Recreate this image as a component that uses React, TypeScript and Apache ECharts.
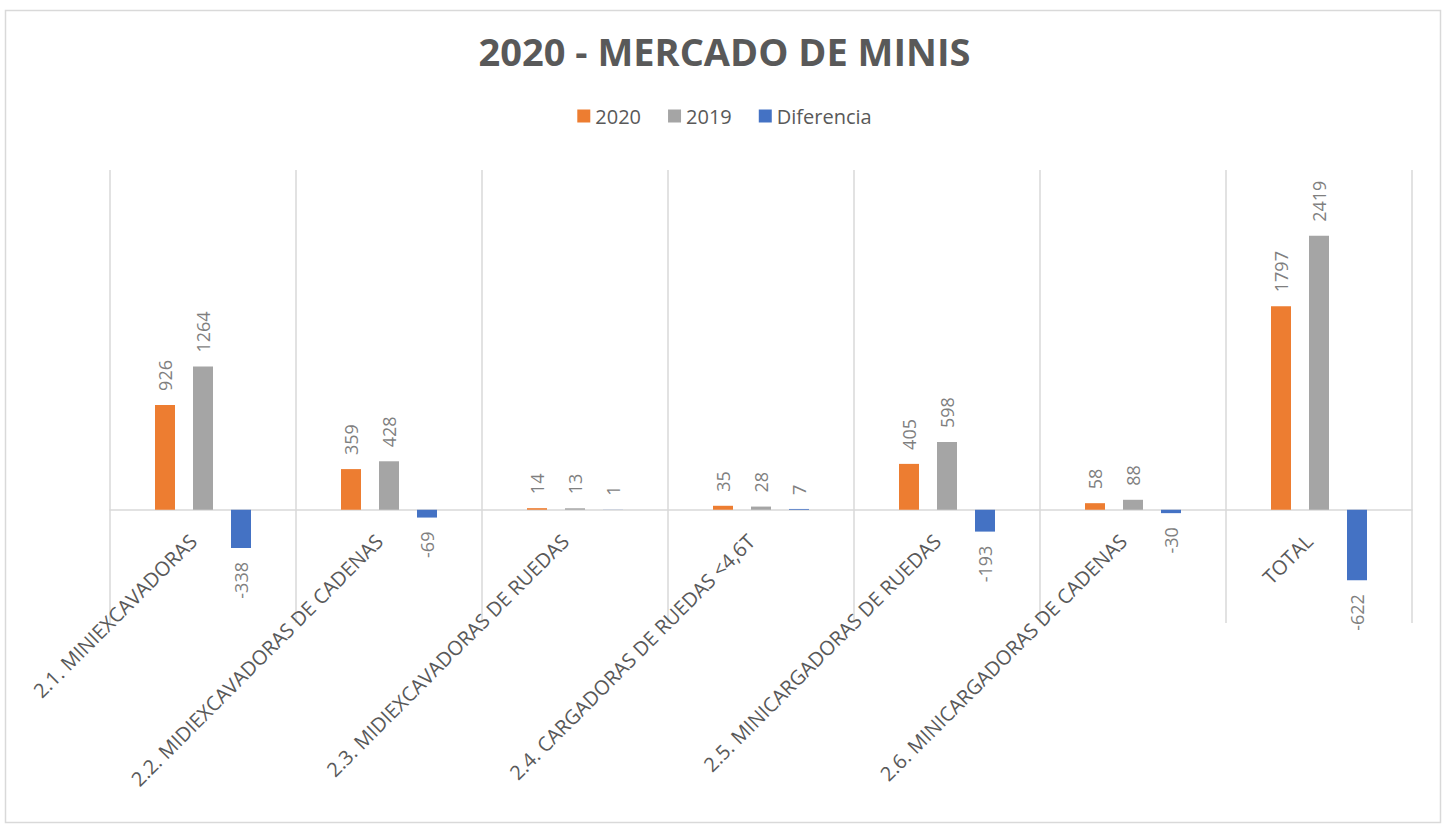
import React, { useEffect, useRef } from "react";
import * as echarts from "echarts";

const categories = [
  "2.1. MINIEXCAVADORAS",
  "2.2. MIDIEXCAVADORAS DE CADENAS",
  "2.3. MIDIEXCAVADORAS DE RUEDAS",
  "2.4. CARGADORAS DE RUEDAS <4,6T",
  "2.5. MINICARGADORAS DE RUEDAS",
  "2.6. MINICARGADORAS DE CADENAS",
  "TOTAL",
];
const values2020 = [926, 359, 14, 35, 405, 58, 1797];
const values2019 = [1264, 428, 13, 28, 598, 88, 2419];
const valuesDiff = [-338, -69, 1, 7, -193, -30, -622];

const FONT = "'Open Sans', 'Noto Sans', sans-serif";
const LABEL_COLOR = "#7F7F7F";

const Y_MIN = -1000;
const Y_MAX = 3000;
const GRID_TOP = 170;
const GRID_BOTTOM = 203;
const H = 826;

function toData(vals: number[]) {
  return vals.map((v) => ({
    value: v,
    label:
      v >= 0
        ? { position: "top", align: "left", verticalAlign: "middle" }
        : { position: "bottom", align: "right", verticalAlign: "middle" },
  }));
}

export default function App() {
  const ref = useRef<HTMLDivElement>(null);
  useEffect(() => {
    document.body.style.margin = "0";
    if (!ref.current) return;
    const chart = echarts.init(ref.current, undefined, { renderer: "svg" });
    const barLabel = {
      show: true,
      rotate: 90,
      distance: 14,
      color: LABEL_COLOR,
      fontSize: 18,
      fontFamily: FONT,
    };
    // pixel position of the zero line of the main grid
    const plotH = H - GRID_TOP - GRID_BOTTOM;
    const zeroY = GRID_TOP + (plotH * Y_MAX) / (Y_MAX - Y_MIN);
    chart.setOption({
      animation: false,
      backgroundColor: "#ffffff",
      title: {
        text: "2020 - MERCADO DE MINIS",
        left: "center",
        top: 27,
        textStyle: {
          fontFamily: FONT,
          fontSize: 38,
          fontWeight: "bold",
          color: "#595959",
        },
      },
      legend: {
        top: 101,
        left: "center",
        itemWidth: 13,
        itemHeight: 13,
        itemGap: 27,
        icon: "rect",
        textStyle: { fontFamily: FONT, fontSize: 20, color: "#595959" },
        data: ["2020", "2019", "Diferencia"],
      },
      grid: [
        { left: 110, right: 37, top: GRID_TOP, bottom: GRID_BOTTOM, containLabel: false, outerBoundsMode: "none" },
        { left: 110, right: 37, top: GRID_TOP, bottom: H - zeroY, containLabel: false, outerBoundsMode: "none" },
      ],
      xAxis: [
        {
          type: "category",
          gridIndex: 0,
          data: categories,
          axisLine: { show: true, onZero: true, lineStyle: { color: "#D9D9D9", width: 1.5 } },
          axisTick: { show: false, interval: 0 },
          splitLine: { show: true, interval: 0, lineStyle: { color: "#D9D9D9", width: 1.5 } },
          axisLabel: { show: false, interval: 0 },
        },
        {
          type: "category",
          gridIndex: 1,
          data: categories,
          axisLine: { show: false },
          axisTick: { show: false },
          splitLine: { show: false },
          axisLabel: {
            rotate: 45,
            interval: 0,
            margin: 18,
            padding: [0, 14, 0, 0],
            fontFamily: FONT,
            fontSize: 20,
            color: "#595959",
          },
        },
      ],
      yAxis: [
        {
          type: "value",
          gridIndex: 0,
          min: Y_MIN,
          max: Y_MAX,
          interval: 1000,
          show: false,
          splitLine: { show: false },
        },
        {
          type: "value",
          gridIndex: 1,
          min: 0,
          max: Y_MAX,
          interval: 1000,
          show: false,
          splitLine: { show: false },
        },
      ],
      series: [
        {
          name: "2020",
          type: "bar",
          data: toData(values2020),
          barWidth: 20,
          barGap: "90%",
          itemStyle: { color: "#ED7D31" },
          label: barLabel,
        },
        {
          name: "2019",
          type: "bar",
          data: toData(values2019),
          barWidth: 20,
          barGap: "90%",
          itemStyle: { color: "#A5A5A5" },
          label: barLabel,
        },
        {
          name: "Diferencia",
          type: "bar",
          data: toData(valuesDiff),
          barWidth: 20,
          barGap: "90%",
          itemStyle: { color: "#4472C4" },
          label: barLabel,
        },
      ],
      graphic: [
        {
          type: "rect",
          shape: { x: 5.5, y: 10.5, width: 1435, height: 812 },
          style: { fill: "none", stroke: "#D9D9D9", lineWidth: 1.5 },
          silent: true,
        },
      ],
    });
    return () => chart.dispose();
  }, []);
  return <div ref={ref} style={{ width: 1449, height: 826 }} />;
}
